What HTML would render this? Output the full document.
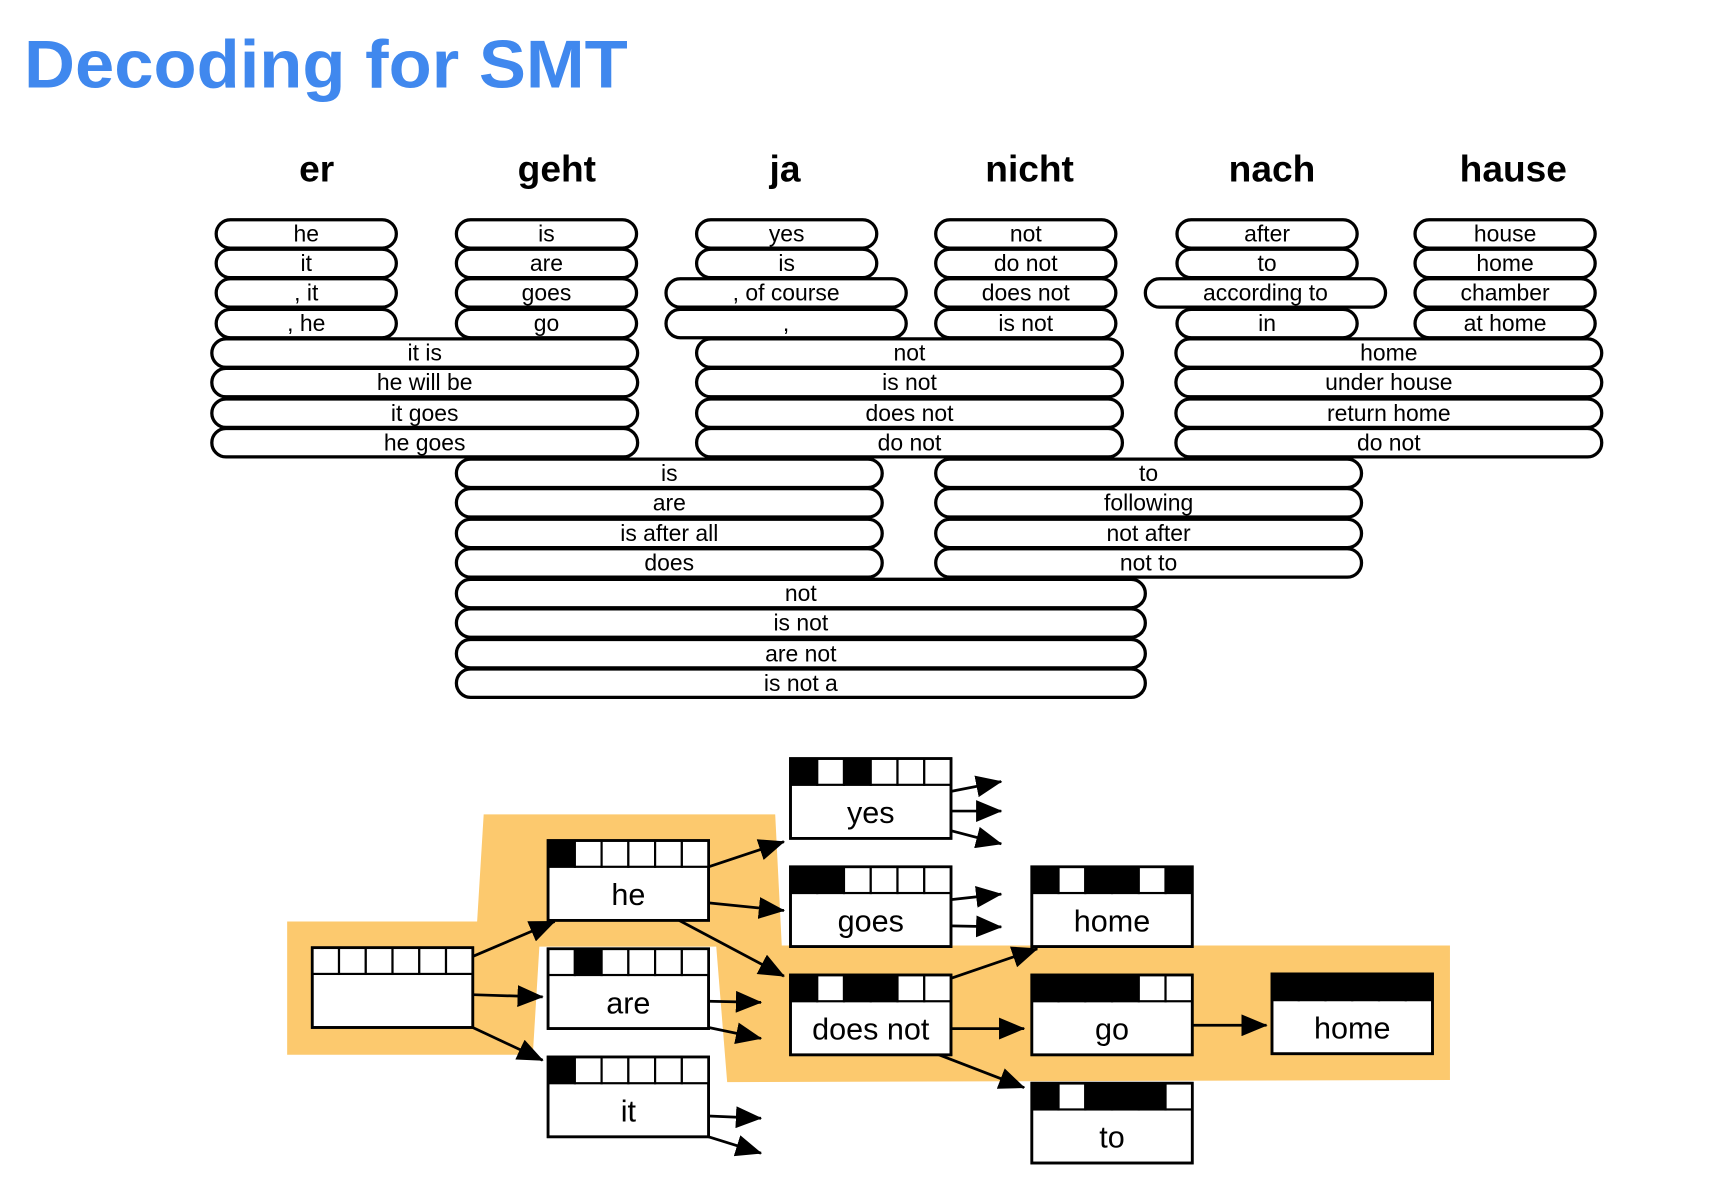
<!DOCTYPE html>
<html><head><meta charset="utf-8"><style>
html,body{margin:0;padding:0;background:#fff;}
svg{display:block;}
text{font-family:"Liberation Sans",sans-serif;}
</style></head><body>
<svg width="1712" height="1198" viewBox="0 0 1568 1096" preserveAspectRatio="none" xmlns="http://www.w3.org/2000/svg">
<defs>
<marker id="a" viewBox="0 0 24 20" refX="23" refY="10" markerWidth="24" markerHeight="20" orient="auto" markerUnits="userSpaceOnUse"><path d="M0,0 L24,10 L0,20 Z" fill="#000"/></marker>
</defs>
<text x="22" y="80" font-size="62" font-weight="bold" fill="#4088ee" textLength="553" lengthAdjust="spacingAndGlyphs">Decoding for SMT</text>
<g font-size="34" font-weight="bold" text-anchor="middle">
<text x="290" y="166">er</text><text x="510" y="166">geht</text><text x="719" y="166">ja</text>
<text x="943" y="166">nicht</text><text x="1165" y="166">nach</text><text x="1386" y="166">hause</text>
</g>
<g id="pills" fill="#fff" stroke="#000" stroke-width="3" font-size="21"></g>
<polygon points="263,843 437,843 443,745 710,745 716,865 1328,865 1328,988 666,990 656,866 494,866 488,965 263,965" fill="#fcc96e"/>
<g id="boxes"></g>
<g stroke="#000" stroke-width="2.5" fill="none" marker-end="url(#a)">
<line x1="433" y1="875" x2="508" y2="843"/>
<line x1="433" y1="910" x2="497" y2="912"/>
<line x1="433" y1="940" x2="497" y2="970"/>
<line x1="649" y1="793" x2="718" y2="770"/>
<line x1="649" y1="826" x2="718" y2="833"/>
<line x1="622" y1="842" x2="718" y2="893"/>
<line x1="649" y1="916" x2="697" y2="917"/>
<line x1="649" y1="940" x2="697" y2="950"/>
<line x1="649" y1="1021" x2="697" y2="1023"/>
<line x1="649" y1="1040" x2="697" y2="1055"/>
<line x1="871" y1="724" x2="917" y2="715"/>
<line x1="871" y1="742" x2="917" y2="742"/>
<line x1="871" y1="760" x2="917" y2="772"/>
<line x1="871" y1="823" x2="917" y2="818"/>
<line x1="871" y1="847" x2="917" y2="848"/>
<line x1="871" y1="895" x2="950" y2="868"/>
<line x1="871" y1="941" x2="938" y2="941"/>
<line x1="860" y1="965" x2="938" y2="995"/>
<line x1="1092" y1="938" x2="1160" y2="938"/>
</g>
</svg>
<script>
var NS="http://www.w3.org/2000/svg";
function el(t,a,p,txt){var e=document.createElementNS(NS,t);for(var k in a)e.setAttribute(k,a[k]);if(txt!=null)e.textContent=txt;p.appendChild(e);return e;}
var P=document.getElementById("pills");
var rows=[214,241,268,296,323,350,378,405,433,460,488,515,543,570,598,625];
var pills=[
[198,363,0,"he"],[198,363,1,"it"],[198,363,2,", it"],[198,363,3,", he"],
[418,583,0,"is"],[418,583,1,"are"],[418,583,2,"goes"],[418,583,3,"go"],
[638,803,0,"yes"],[638,803,1,"is"],[610,830,2,", of course"],[610,830,3,","],
[857,1022,0,"not"],[857,1022,1,"do not"],[857,1022,2,"does not"],[857,1022,3,"is not"],
[1078,1243,0,"after"],[1078,1243,1,"to"],[1049,1269,2,"according to"],[1078,1243,3,"in"],
[1296,1461,0,"house"],[1296,1461,1,"home"],[1296,1461,2,"chamber"],[1296,1461,3,"at home"],
[194,584,4,"it is"],[194,584,5,"he will be"],[194,584,6,"it goes"],[194,584,7,"he goes"],
[638,1028,4,"not"],[638,1028,5,"is not"],[638,1028,6,"does not"],[638,1028,7,"do not"],
[1077,1467,4,"home"],[1077,1467,5,"under house"],[1077,1467,6,"return home"],[1077,1467,7,"do not"],
[418,808,8,"is"],[418,808,9,"are"],[418,808,10,"is after all"],[418,808,11,"does"],
[857,1247,8,"to"],[857,1247,9,"following"],[857,1247,10,"not after"],[857,1247,11,"not to"],
[418,1049,12,"not"],[418,1049,13,"is not"],[418,1049,14,"are not"],[418,1049,15,"is not a"]];
pills.forEach(function(p){var cy=rows[p[2]];
el("rect",{x:p[0],y:cy-13,width:p[1]-p[0],height:26,rx:13,ry:13},P);
el("text",{x:(p[0]+p[1])/2,y:cy+7,"text-anchor":"middle",fill:"#000",stroke:"none"},P,p[3]);});
var B=document.getElementById("boxes");
var boxes=[
[286,867,"","000000"],[502,769,"he","100000"],[502,868,"are","010000"],[502,967,"it","100000"],
[724,694,"yes","101000"],[724,793,"goes","110000"],[724,892,"does not","101100"],
[945,793,"home","101101"],[945,892,"go","111100"],[945,991,"to","101110"],[1165,891,"home","111111"]];
boxes.forEach(function(b){var x=b[0],y=b[1],w=147,h=73,hh=24,cw=w/6;
el("rect",{x:x,y:y,width:w,height:h,fill:"#fff",stroke:"#000","stroke-width":2.5},B);
for(var i=0;i<6;i++){el("rect",{x:x+i*cw,y:y,width:cw,height:hh,fill:b[3][i]=="1"?"#000":"#fff",stroke:"#000","stroke-width":2},B);}
el("rect",{x:x,y:y,width:w,height:h,fill:"none",stroke:"#000","stroke-width":2.5},B);
if(b[2])el("text",{x:x+w/2,y:y+hh+35,"text-anchor":"middle","font-size":28},B,b[2]);});
</script>
</body></html>
